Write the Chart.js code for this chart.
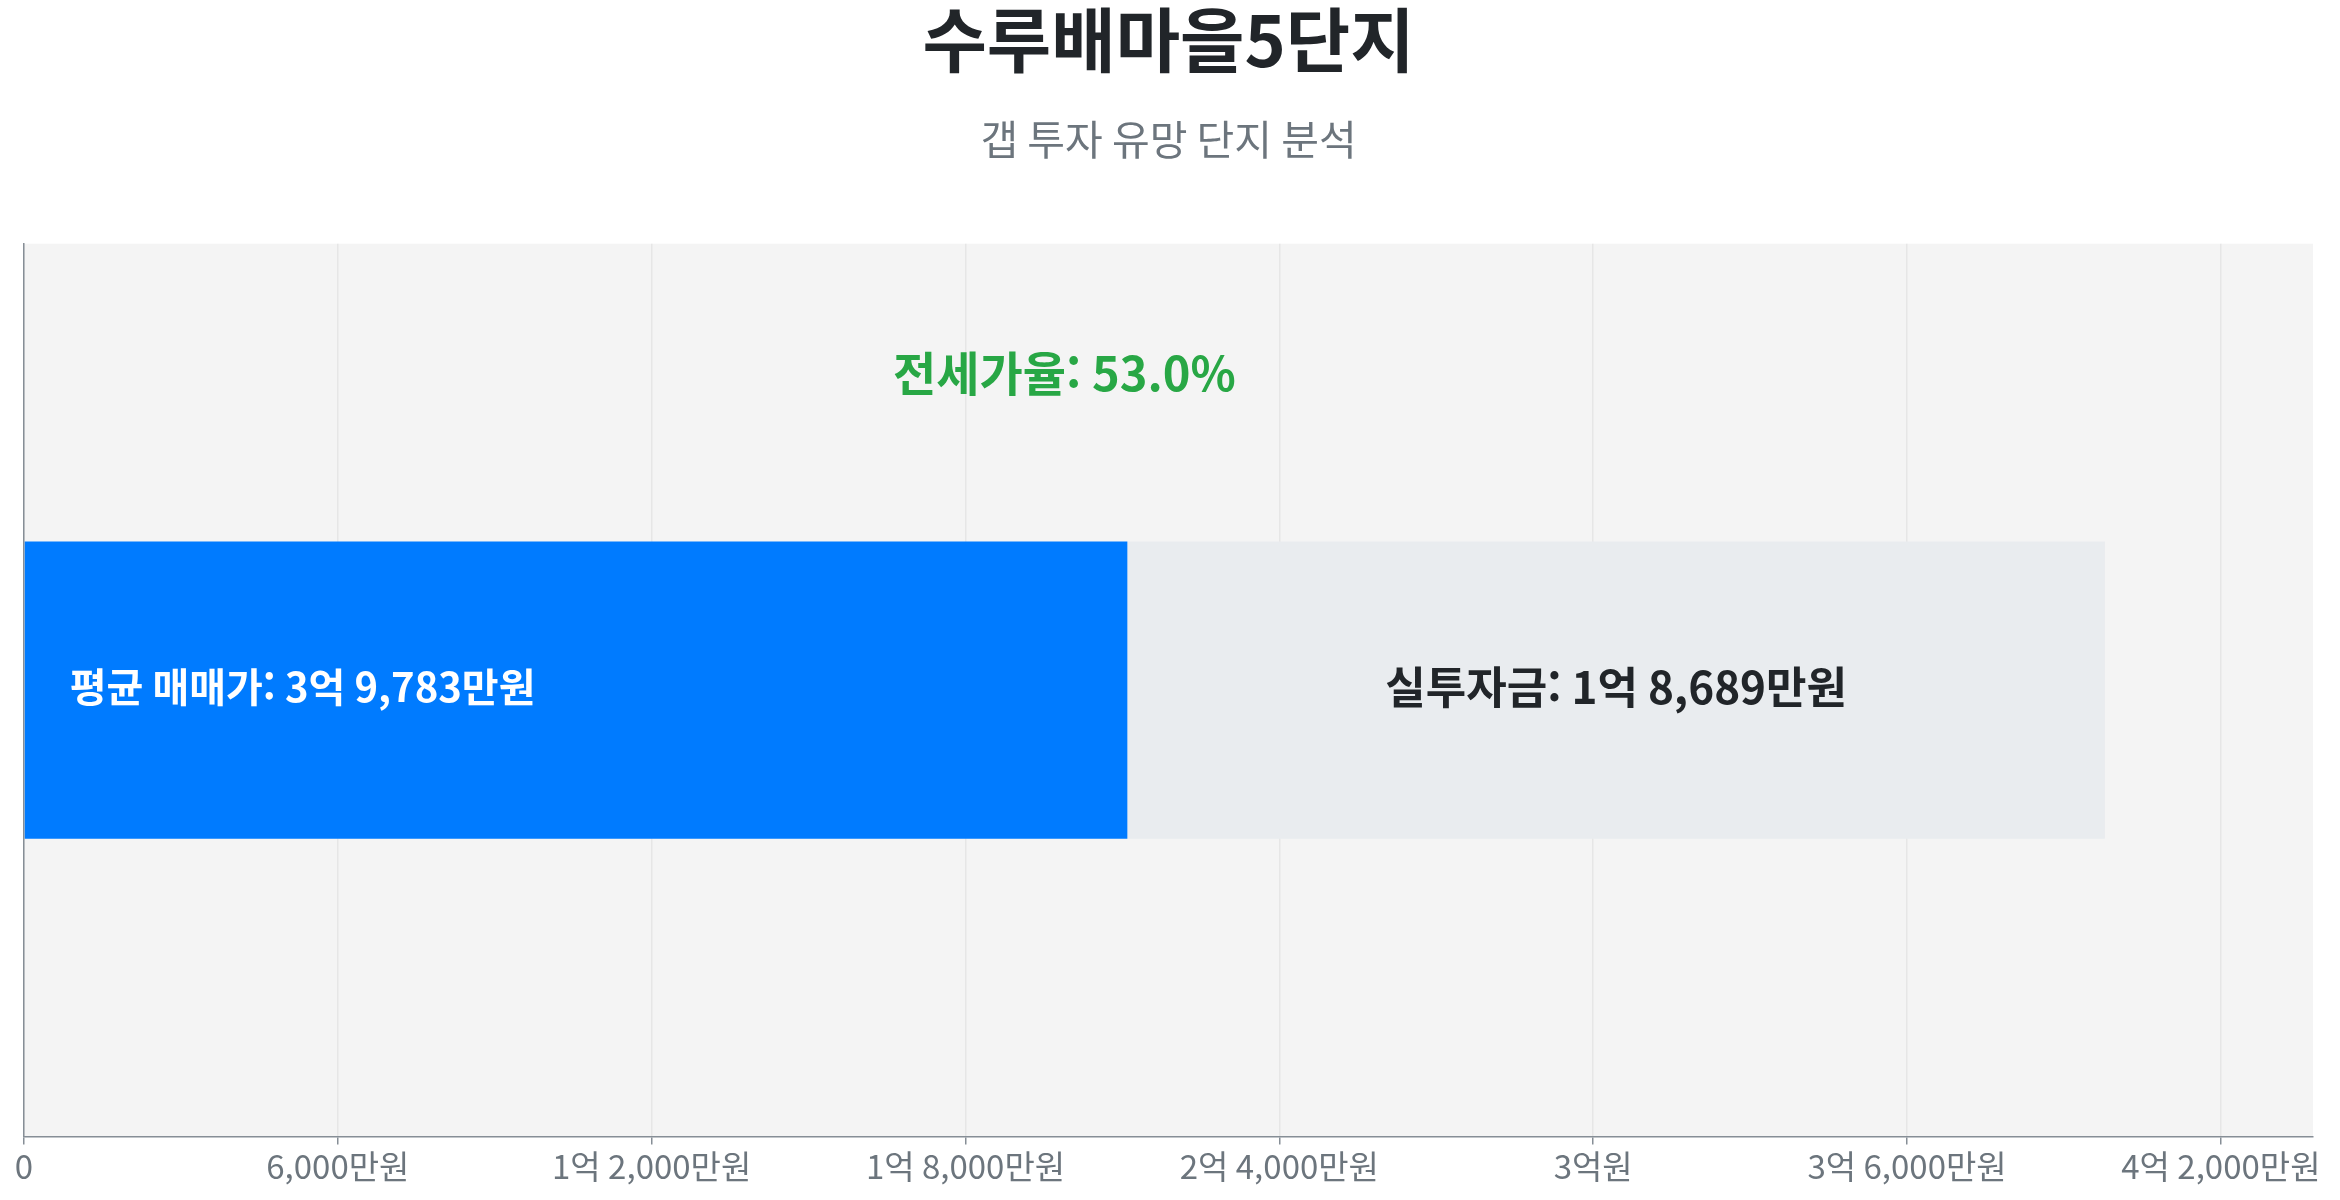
<!DOCTYPE html>
<html lang="ko">
<head>
<meta charset="UTF-8">
<title>수루배마을5단지</title>
<script src="https://cdn.jsdelivr.net/npm/chart.js@4.4.0/dist/chart.umd.min.js"></script>
<style>
    html, body { margin: 0; padding: 0; background: #fff; }
    #wrap { width: 2340px; height: 1200px; }
</style>
</head>
<body>
<div id="wrap"><canvas id="gapChart"></canvas></div>
<script>
// 데이터 (단위: 만원)
const categories = ['수루배마을5단지'];
const jeonseValues = [21094];   // 전세가 (파란 막대)
const gapValues = [18689];      // 실투자금 (회색 막대)
const salePrices = [39783];     // 평균 매매가
const jeonseRatios = [53.0];    // 전세가율 (%)
const tickValues = [0, 6000, 12000, 18000, 24000, 30000, 36000, 42000];

const FONT = "'Noto Sans CJK KR', 'Noto Sans', sans-serif";

// 만원 -> "1억 2,000만원"
const formatWon = (v) => {
    if (v === 0) return '0';
    const eok = Math.floor(v / 10000);
    const man = Math.round(v % 10000);
    if (eok > 0 && man === 0) return `${eok}억원`;
    if (eok > 0) return `${eok}억 ${man.toLocaleString('ko-KR')}만원`;
    return `${man.toLocaleString('ko-KR')}만원`;
};

// 차트 영역 배경
const areaBg = {
    id: 'areaBg',
    beforeDraw(chart) {
        const { ctx, chartArea: a } = chart;
        ctx.save();
        ctx.fillStyle = '#f4f4f4';
        ctx.fillRect(a.left, a.top, a.right - a.left, a.bottom - a.top);
        ctx.restore();
    }
};

// 막대 위 라벨
const barLabels = {
    id: 'barLabels',
    afterDatasetsDraw(chart) {
        const { ctx } = chart;
        const xScale = chart.scales.x;
        const blue = chart.getDatasetMeta(0).data[0];
        const gray = chart.getDatasetMeta(1).data[0];
        if (!blue || !gray) return;

        ctx.save();
        ctx.textBaseline = 'middle';

        // 평균 매매가
        ctx.font = `bold 40px ${FONT}`;
        ctx.fillStyle = '#ffffff';
        ctx.textAlign = 'left';
        ctx.fillText(`평균 매매가: ${formatWon(salePrices[0])}`, blue.base + 45, blue.y - 3);

        // 실투자금
        ctx.font = `bold 44px ${FONT}`;
        ctx.fillStyle = '#212529';
        ctx.textAlign = 'center';
        ctx.fillText(`실투자금: ${formatWon(gapValues[0])}`, (gray.base + gray.x) / 2, gray.y - 3);

        // 전세가율
        const top = blue.y - blue.height / 2;
        ctx.font = `bold 47px ${FONT}`;
        ctx.fillStyle = '#28a745';
        ctx.fillText(`전세가율: ${jeonseRatios[0].toFixed(1)}%`, xScale.getPixelForValue(salePrices[0] / 2), top - 168);
        ctx.restore();
    }
};

const ctx = document.getElementById('gapChart').getContext('2d');
new Chart(ctx, {
    type: 'bar',
    data: {
        labels: categories,
        datasets: [
            {
                label: '전세가',
                data: jeonseValues,
                backgroundColor: '#007bff',
                borderWidth: 0,
                barPercentage: 1,
                categoryPercentage: 0.333
            },
            {
                label: '실투자금',
                data: gapValues,
                backgroundColor: '#e9ecef',
                borderWidth: 0,
                barPercentage: 1,
                categoryPercentage: 0.333
            }
        ]
    },
    options: {
        indexAxis: 'y',
        responsive: true,
        maintainAspectRatio: false,
        animation: false,
        layout: { padding: { left: 24, right: 27, top: 0, bottom: 12 } },
        plugins: {
            legend: { display: false },
            tooltip: { enabled: false },
            title: {
                display: true,
                text: categories[0],
                color: '#212529',
                font: { family: FONT, size: 70, weight: 'bold', lineHeight: 1.15 },
                padding: { top: 0, bottom: 34 }
            },
            subtitle: {
                display: true,
                text: '갭 투자 유망 단지 분석',
                color: '#6c757d',
                font: { family: FONT, size: 41, lineHeight: 1.2 },
                padding: { top: 0, bottom: 80 }
            }
        },
        scales: {
            x: {
                stacked: true,
                min: 0,
                max: salePrices[0] * 1.1,
                afterBuildTicks: (scale) => {
                    scale.ticks = tickValues.map(v => ({ value: v }));
                },
                ticks: {
                    color: '#6c757d',
                    font: { family: FONT, size: 33 },
                    padding: 2,
                    maxRotation: 0,
                    autoSkip: false,
                    callback: (v) => formatWon(v)
                },
                grid: {
                    color: '#e6e6e6',
                    lineWidth: 1.5,
                    tickColor: '#868e96',
                    tickLength: 8
                },
                border: { display: true, color: '#868e96', width: 1.5 }
            },
            y: {
                stacked: true,
                ticks: { display: false },
                grid: { display: false, drawTicks: false },
                border: { display: true, color: '#868e96', width: 1.5 }
            }
        }
    },
    plugins: [areaBg, barLabels]
});
</script>
</body>
</html>
